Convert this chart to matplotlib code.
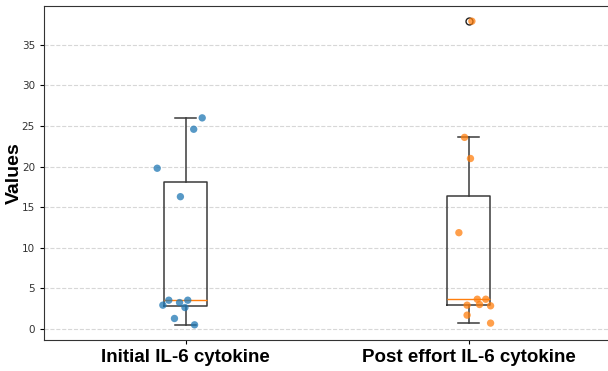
import numpy as np
import matplotlib
import matplotlib.pyplot as plt

# datos.
labels = ['Initial IL-6 cytokine', 'Post effort IL-6 cytokine']
initial = [26.0, 24.6, 19.8, 16.3, 3.56, 3.56, 3.27, 2.95, 2.66, 1.31, 0.53]
post = [37.9, 23.6, 21.0, 11.87, 3.68, 3.68, 3.03, 2.95, 2.87, 1.72, 0.74]
# desplazamiento horizontal (jitter) de cada punto.
jitter_initial = [0.059, 0.029, -0.100, -0.018, -0.059, 0.008, -0.021, -0.080, -0.002, -0.039, 0.032]
jitter_post = [0.012, -0.014, 0.007, -0.034, 0.031, 0.061, 0.039, -0.005, 0.078, -0.005, 0.078]

colors = ['#1f77b4', '#ff7f0e']

fig = plt.figure(figsize=(6.08, 3.71), dpi=100)
ax = fig.add_axes([44/608, 31/371, 566/608, 334/371])

lc = '#3a3a3a'
ax.boxplot([initial, post], widths=0.15, zorder=2,
           boxprops=dict(color=lc, lw=1.1), whiskerprops=dict(color=lc, lw=1.1),
           capprops=dict(color=lc, lw=1.1),
           flierprops=dict(marker='o', markersize=5, markeredgewidth=1, markeredgecolor='#222222'))

for i, (vals, jit) in enumerate([(initial, jitter_initial), (post, jitter_post)]):
    xs = (i + 1) + np.array(jit)
    ax.scatter(xs, vals, s=28, color=colors[i], alpha=0.75, edgecolors='none', zorder=3)

ax.yaxis.grid(True, ls='--', color='lightgray', lw=0.8, alpha=0.9)
ax.set_axisbelow(True)

ax.set_xticks([1, 2])
ax.set_xticklabels(labels, fontsize=13.5, fontweight='bold', family='Liberation Sans')
ax.set_ylabel('Values', fontsize=14, fontweight='bold', family='Liberation Sans')
ax.yaxis.set_label_coords(-0.037, 0.5)
ax.tick_params(axis='y', labelsize=7.5, labelcolor='#333333', length=3)
ax.tick_params(axis='x', length=3)

for s in ax.spines.values():
    s.set_color('#333333')

fig.savefig('out.png', dpi=100)
